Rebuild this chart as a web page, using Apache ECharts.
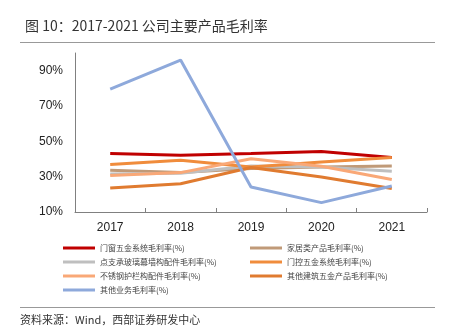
<!DOCTYPE html>
<html><head><meta charset="utf-8">
<script src="https://cdn.jsdelivr.net/npm/echarts@6/dist/echarts.min.js"></script>
<style>html,body{margin:0;padding:0;background:#fff}#c{width:452px;height:329px}</style>
</head><body><div id="c"></div>
<script>
var categories = ['2017', '2018', '2019', '2020', '2021'];
var seriesNames = ['门窗五金系统毛利率(%)', '家居类产品毛利率(%)', '点支承玻璃幕墙构配件毛利率(%)', '门控五金系统毛利率(%)', '不锈钢护栏构配件毛利率(%)', '其他建筑五金产品毛利率(%)', '其他业务毛利率(%)'];
var doorWindow = [43.1, 42.1, 43.1, 44.2, 40.8];
var household = [33.6, 32.3, 34.6, 35.5, 36.1];
var glassCurtain = [31.5, 32.0, 36.0, 35.5, 33.1];
var doorControl = [36.9, 39.3, 35.5, 38.3, 40.8];
var stainless = [30.6, 32.3, 40.1, 35.9, 28.4];
var otherBuilding = [23.6, 26.0, 35.2, 29.8, 23.3];
var otherBusiness = [79.5, 96.0, 24.2, 15.3, 24.7];
var yTicks = [10, 30, 50, 70, 90];

var values = [doorWindow, household, glassCurtain, doorControl, stainless, otherBuilding, otherBusiness];
var colors = ['#C00000', '#C09A78', '#BFBFBF', '#F08C3C', '#F9A877', '#E07B30', '#8EA9DB'];

var chart = echarts.init(document.getElementById('c'));
var legendText = {fontSize: 8, color: '#444', fontFamily: 'Noto Sans CJK SC'};
chart.setOption({
  animation: false,
  title: {
    text: '图 10：2017-2021 公司主要产品毛利率',
    left: 20, top: 14,
    textStyle: {fontSize: 14, fontWeight: 'normal', color: '#333', fontFamily: 'Noto Sans CJK SC'}
  },
  graphic: [
    {type: 'line', shape: {x1: 20, y1: 42.5, x2: 435, y2: 42.5}, style: {stroke: '#999', lineWidth: 1}},
    {type: 'line', shape: {x1: 20, y1: 307.5, x2: 435, y2: 307.5}, style: {stroke: '#999', lineWidth: 1}},
    {type: 'text', left: 20, top: 314, style: {text: '资料来源：Wind，西部证券研发中心', fontSize: 11, fill: '#333', fontFamily: 'Noto Sans CJK SC'}}
  ],
  legend: [
    {
      orient: 'vertical', left: 58, top: 239, itemWidth: 32, itemHeight: 3, itemGap: 6, icon: 'rect',
      textStyle: legendText,
      data: [seriesNames[0], seriesNames[2], seriesNames[4], seriesNames[6]]
    },
    {
      orient: 'vertical', left: 245, top: 239, itemWidth: 32, itemHeight: 3, itemGap: 6, icon: 'rect',
      textStyle: legendText,
      data: [seriesNames[1], seriesNames[3], seriesNames[5]]
    }
  ],
  grid: {left: 75, right: 25, top: 53, bottom: 117},
  xAxis: {
    type: 'category', data: categories, boundaryGap: true,
    axisLine: {lineStyle: {color: '#808080'}},
    axisTick: {show: true, inside: true, length: 4, lineStyle: {color: '#808080'}},
    axisLabel: {fontSize: 12, color: '#222', margin: 10, fontFamily: 'Liberation Sans'}
  },
  yAxis: {
    type: 'value', min: 10, max: 100, interval: 20,
    axisLine: {show: true, lineStyle: {color: '#808080'}},
    axisTick: {show: false},
    splitLine: {show: false},
    axisLabel: {
      fontSize: 12, color: '#222', margin: 12, fontFamily: 'Liberation Sans', showMaxLabel: false,
      formatter: function (v) { return yTicks.indexOf(v) >= 0 ? v + '%' : ''; }
    }
  },
  series: seriesNames.map(function (n, i) {
    return {
      name: n, type: 'line', data: values[i], symbol: 'none',
      lineStyle: {width: 3, color: colors[i]}, itemStyle: {color: colors[i]}
    };
  })
});
</script></body></html>
